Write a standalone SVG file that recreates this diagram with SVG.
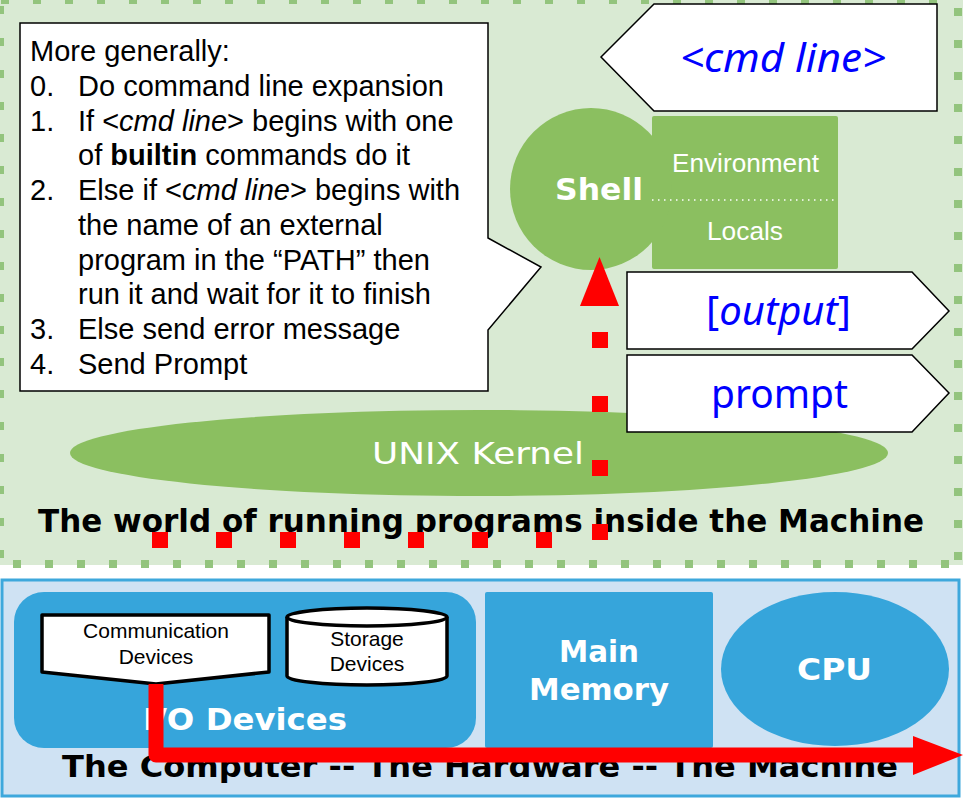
<svg xmlns="http://www.w3.org/2000/svg" width="963" height="798" viewBox="0 0 963 798">
<style>
.dots{fill:none;stroke:#93c47d;stroke-width:8;stroke-dasharray:8 24}
.dk{fill:#8bbf60}
.blue{fill:#36a5db}
.wbox{fill:#ffffff;stroke:#000000;stroke-width:1.5}
.call{font-family:"Liberation Sans",Arial,sans-serif;font-size:29px;fill:#000}
.tech{font-family:"DejaVu Sans",sans-serif;fill:#ffffff}
.title{font-family:"DejaVu Sans",sans-serif;fill:#000000;font-weight:bold}
.io{font-family:"Noto Sans","Open Sans",sans-serif;fill:#0000ff;font-size:40px}
.lbl{font-family:"Liberation Sans",Arial,sans-serif;fill:#ffffff;font-size:26px}
.dev{font-family:"Liberation Sans",Arial,sans-serif;fill:#000;font-size:21px;text-anchor:middle}
.devshape{fill:#ffffff;stroke:#000000;stroke-width:3.5;stroke-linejoin:round}
</style>
<rect x="0" y="0" width="963" height="565" fill="#d9ead3"/>
<g id="world">
  <line x1="1" y1="0" x2="958" y2="0" class="dots"/>
  <line x1="0" y1="6" x2="0" y2="564" class="dots"/>
  <line x1="13" y1="564" x2="958" y2="564" class="dots"/>
  <line x1="958" y1="8" x2="958" y2="564" class="dots"/>
  <text x="38" y="532" class="title" font-size="32" textLength="886" lengthAdjust="spacingAndGlyphs">The world of running programs inside the Machine</text>
</g>
<g id="kernel">
  <ellipse cx="479" cy="453" rx="409" ry="43" class="dk"/>
  <text x="372" y="464" class="tech" font-size="30" textLength="212" lengthAdjust="spacingAndGlyphs">UNIX Kernel</text>
</g>
<g id="callout">
  <path d="M20,23 H488 V238 L541,267 L488,330 V391 H20 Z" class="wbox"/>
  <text class="call" x="30" y="61">More generally:</text>
  <text class="call" x="30" y="96">0.</text>
  <text class="call" x="78" y="96">Do command line expansion</text>
  <text class="call" x="30" y="131">1.</text>
  <text class="call" x="78" y="131">If &lt;<tspan font-style="italic">cmd line</tspan>&gt; begins with one</text>
  <text class="call" x="78" y="165">of <tspan font-weight="bold">builtin</tspan> commands do it</text>
  <text class="call" x="30" y="200">2.</text>
  <text class="call" x="78" y="200">Else if &lt;<tspan font-style="italic">cmd line</tspan>&gt; begins with</text>
  <text class="call" x="78" y="235">the name of an external</text>
  <text class="call" x="78" y="270">program in the “PATH” then</text>
  <text class="call" x="78" y="304">run it and wait for it to finish</text>
  <text class="call" x="30" y="339">3.</text>
  <text class="call" x="78" y="339">Else send error message</text>
  <text class="call" x="30" y="374">4.</text>
  <text class="call" x="78" y="374">Send Prompt</text>
</g>
<g id="cmdline">
  <path d="M601,57 L654,4 H937 V111 H654 Z" class="wbox"/>
  <text x="680" y="72" class="io" font-style="italic" textLength="206" lengthAdjust="spacingAndGlyphs">&lt;cmd line&gt;</text>
</g>
<g id="shell">
  <rect x="652" y="116" width="186" height="153" rx="2" class="dk"/>
  <circle cx="591" cy="189" r="81" class="dk"/>
  <line x1="652" y1="200" x2="838" y2="200" stroke="#ffffff" stroke-width="1.5" stroke-dasharray="1.5 4.5"/>
  <text x="555" y="200" class="tech" font-size="30" font-weight="bold" textLength="88" lengthAdjust="spacingAndGlyphs">Shell</text>
  <text x="672" y="172" class="lbl" textLength="147" lengthAdjust="spacingAndGlyphs">Environment</text>
  <text x="707" y="240" class="lbl" textLength="76" lengthAdjust="spacingAndGlyphs">Locals</text>
</g>
<g id="output">
  <path d="M627,272 H912 L949,311 L912,349 H627 Z" class="wbox"/>
  <text x="706" y="325" class="io" textLength="145" lengthAdjust="spacingAndGlyphs">[<tspan font-style="italic">output</tspan>]</text>
</g>
<g id="prompt">
  <path d="M627,355 H912 L949,393 L912,432 H627 Z" class="wbox"/>
  <text x="711" y="408" class="io" font-size="42" textLength="137" lengthAdjust="spacingAndGlyphs">prompt</text>
</g>
<g id="computer">
  <rect x="2" y="580" width="957" height="216" fill="#cfe2f3" stroke="#3ea8dc" stroke-width="3"/>
</g>
<g id="io-devices">
  <rect x="14" y="592" width="462" height="156" rx="30" class="blue"/>
  <text x="143" y="730" class="tech" font-size="30" font-weight="bold" textLength="204" lengthAdjust="spacingAndGlyphs">I/O Devices</text>
</g>
<g id="comm-devices">
  <path d="M42,615 H269 V672 L156,684 L42,672 Z" class="devshape"/>
  <text x="156" y="638" class="dev">Communication</text>
  <text x="156" y="664" class="dev">Devices</text>
</g>
<g id="storage-devices">
  <path d="M287,617 V676 A80,9 0 0 0 447,676 V617 A80,9 0 0 0 287,617 Z" class="devshape"/>
  <path d="M287,617 A80,9 0 0 0 447,617" class="devshape" fill="none"/>
  <text x="367" y="646" class="dev">Storage</text>
  <text x="367" y="671" class="dev">Devices</text>
</g>
<g id="main-memory">
  <rect x="485" y="592" width="228" height="156" rx="2" class="blue"/>
  <text x="599" y="662" class="tech" font-size="30" font-weight="bold" text-anchor="middle" textLength="80" lengthAdjust="spacingAndGlyphs">Main</text>
  <text x="599" y="700" class="tech" font-size="30" font-weight="bold" text-anchor="middle" textLength="140" lengthAdjust="spacingAndGlyphs">Memory</text>
</g>
<g id="cpu">
  <ellipse cx="835" cy="669" rx="114" ry="77" class="blue"/>
  <text x="797" y="680" class="tech" font-size="30" font-weight="bold" textLength="75" lengthAdjust="spacingAndGlyphs">CPU</text>
</g>
<text x="62" y="777" class="title" font-size="30" textLength="836" lengthAdjust="spacingAndGlyphs">The Computer -- The Hardware -- The Machine</text>
<g id="connectors">
  <path d="M152,540 H600 V306" fill="none" stroke="#ff0000" stroke-width="16" stroke-dasharray="16 48"/>
  <polygon points="599.5,257 580,306 619,306" fill="#ff0000"/>
  <path d="M156,684 V755 H915" fill="none" stroke="#ff0000" stroke-width="15" stroke-linejoin="round"/>
  <polygon points="963,755 913,736 913,775" fill="#ff0000"/>
</g>
</svg>
